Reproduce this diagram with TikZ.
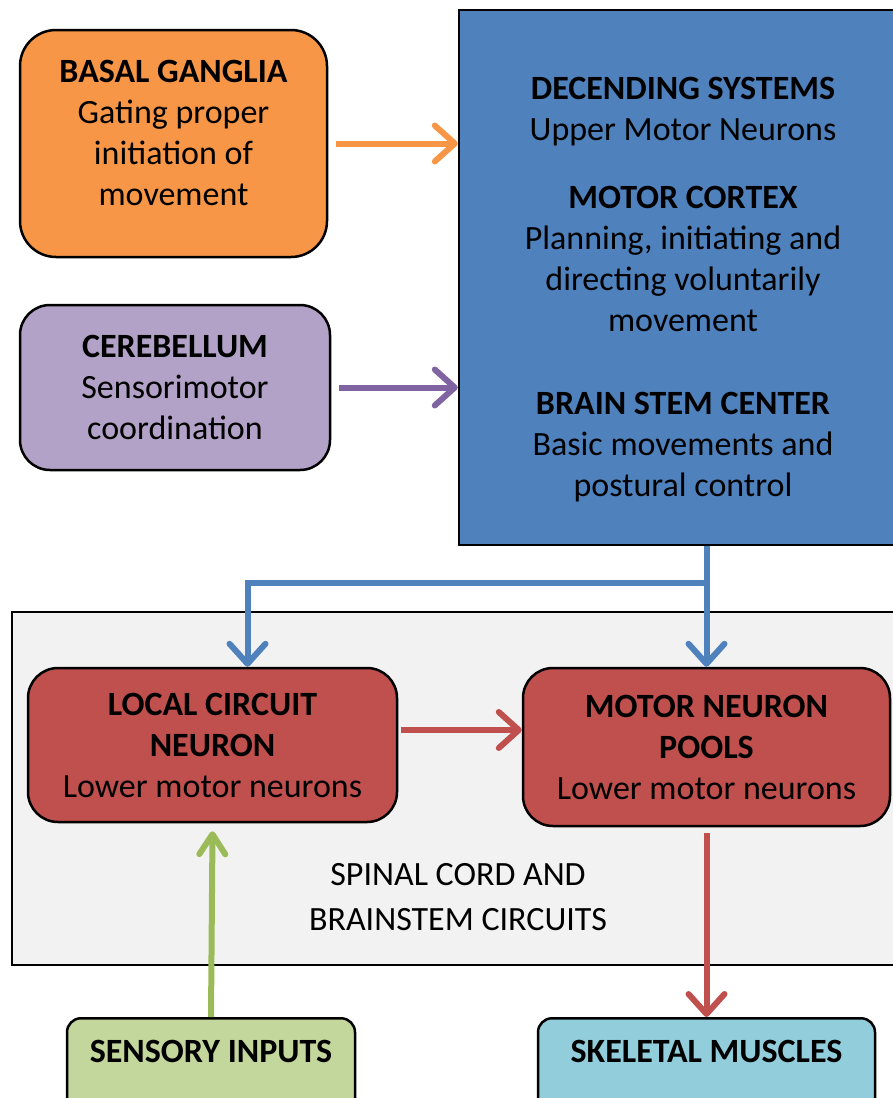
\documentclass[tikz,border=0pt]{standalone}
\usepackage{fontspec}
\setmainfont{Carlito}
\usetikzlibrary{positioning,arrows.meta}
\definecolor{orangeC}{HTML}{F79646}
\definecolor{purpleC}{HTML}{B2A2C7}
\definecolor{purpleL}{HTML}{8064A2}
\definecolor{blueC}{HTML}{4F81BD}
\definecolor{redC}{HTML}{C0504D}
\definecolor{greenC}{HTML}{C3D69B}
\definecolor{greenL}{HTML}{9BBB59}
\definecolor{cyanC}{HTML}{92CDDC}
\definecolor{grayC}{HTML}{F2F2F2}

\begin{document}
\begin{tikzpicture}[x=1pt, y=-1pt,
  box/.style={rectangle, rounded corners=36pt, draw, line width=2.5pt, align=center, inner sep=0pt, font=\fontsize{34}{41}\selectfont},
  tag/.style={rectangle, rounded corners=14pt, draw, line width=2.5pt, anchor=north, inner ysep=0pt, text height=44pt, text depth=52pt, font=\fontsize{34}{41}\selectfont\bfseries},
  link/.style={line width=6pt, -{Straight Barb[round, length=20pt, width=36pt]}}]
  \useasboundingbox (0,0) rectangle (893,1098);
        \node at (461,788.5) [rectangle, draw, line width=2.5pt, fill=grayC, minimum width=898pt, minimum height=353pt] (spinal) {};
        \node at (458,897) [align=center, font=\fontsize{34}{45}\selectfont] (spinaltext) {SPINAL CORD AND\\BRAINSTEM CIRCUITS};
        \node at (173.5,143.5) [box, fill=orangeC, minimum width=307pt, minimum height=227pt, text depth=21pt] (basal) {\textbf{BASAL GANGLIA}\\Gating proper\\initiation of\\movement};
        \node at (175,387.5) [box, fill=purpleC, rounded corners=30pt, minimum width=310pt, minimum height=165pt] (cereb) {\textbf{CEREBELLUM}\\Sensorimotor\\coordination};
        \node at (683,277.5) [rectangle, draw, line width=2.5pt, fill=blueC, minimum width=448pt, minimum height=535pt] (desc) {};
        \node at (683,290) [align=center, font=\fontsize{34}{41}\selectfont] (desctext) {\textbf{DECENDING SYSTEMS}\\Upper Motor Neurons\\[27pt]\textbf{MOTOR CORTEX}\\Planning, initiating and\\directing voluntarily\\movement\\[42pt]\textbf{BRAIN STEM CENTER}\\Basic movements and\\postural control};
        \node at (212.5,745) [box, fill=redC, rounded corners=30pt, minimum width=369pt, minimum height=154pt] (local) {\textbf{LOCAL CIRCUIT}\\\textbf{NEURON}\\Lower motor neurons};
        \node at (706.5,747) [box, fill=redC, rounded corners=30pt, minimum width=367pt, minimum height=158pt] (motor) {\textbf{MOTOR NEURON}\\\textbf{POOLS}\\Lower motor neurons};
        \node at (211,1017) [tag, fill=greenC, minimum width=288pt] (sensory) {SENSORY INPUTS};
        \node at (706.5,1017) [tag, fill=cyanC, minimum width=337pt] (skeletal) {SKELETAL MUSCLES};
        \coordinate (fork) at (motor.north |- 0,583);
        \coordinate (lc) at ([xshift=3pt, yshift=15pt]local.east);
        \draw [link, orangeC]([xshift=8pt]basal.east) -- (basal.east -| desc.west);
        \draw [link, purpleL]([xshift=8pt]cereb.east) -- (cereb.east -| desc.west);
        \draw [link, blueC](desc.south -| motor.north) -- (motor.north);
        \draw [link, blueC](fork) -| ([xshift=35pt]local.north);
        \draw [link, redC](lc) -- (lc -| motor.west);
        \draw [link, greenL, -{Straight Barb[round, length=20pt, width=26pt]}](sensory.north) -- ([yshift=-8pt]local.south);
        \draw [link, redC]([yshift=-6pt]motor.south) -- (skeletal.north);
\end{tikzpicture}
\end{document}
